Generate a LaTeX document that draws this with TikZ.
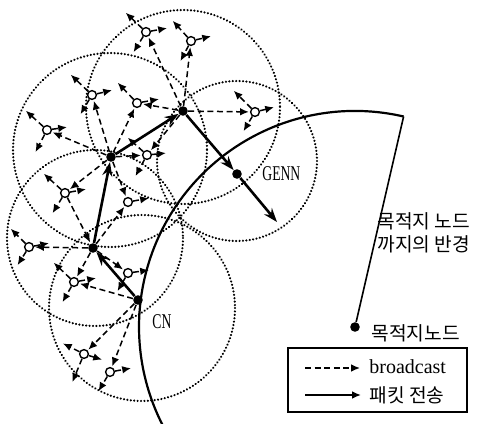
\documentclass[tikz,border=0pt]{standalone}
\usepackage{fontspec}
\setmainfont{Liberation Serif}
\newfontfamily\narrowfont[FakeStretch=0.65]{Liberation Serif}
\newfontfamily\kor{Noto Sans CJK KR}
\usepackage{tikz}
\usetikzlibrary{arrows.meta}
\tikzstyle{relay} = [circle, fill=black, inner sep=0pt, minimum size=4.8pt]
\tikzstyle{nbr} = [circle, draw=black, fill=white, line width=0.7pt, inner sep=0pt, minimum size=4.4pt]
\tikzstyle{rangecircle} = [line width=1.2pt, dash pattern=on 0.01pt off 1.7pt, line cap=round]
\tikzstyle{bcast} = [line width=0.75pt, dash pattern=on 3pt off 1.8pt, -{Latex[length=4.4pt,width=3.8pt]}, shorten >=0.5pt]
\tikzstyle{packet} = [line width=1.3pt, -{Stealth[length=7pt,width=5pt]}]
\tikzstyle{lbl} = [inner sep=0pt, anchor=west]

\begin{document}
\begin{tikzpicture}[x=0.5pt, y=-0.5pt]
\useasboundingbox (0,0) rectangle (487,423);

\draw[rangecircle] (183,107) circle[radius=97];
\draw[rangecircle] (110,150) circle[radius=97];
\draw[rangecircle] (237,161) circle[radius=80];
\draw[rangecircle] (95,238) circle[radius=88];
\draw[rangecircle] (142,308) circle[radius=93];

\node (cn) [relay] at (138,300) {};
\node (na) [relay] at (93,248) {};
\node (nb) [relay] at (111,157) {};
\node (nc) [relay] at (183,111) {};
\node (genn) [relay] at (237,174) {};
\node (dest) [relay] at (355,327) {};
\coordinate (hop) at (277,222);
\coordinate (rtop) at (403.6,116.5);

\draw[line width=1.1pt] (rtop) arc[start angle=-77, end angle=-207, radius=216];
\draw[line width=0.8pt] (dest) -- (rtop);

\node (h1) [nbr] at (146,32) {};
\node (h2) [nbr] at (92,95) {};
\node (h3) [nbr] at (137,103) {};
\node (h4) [nbr] at (47,130) {};
\node (h5) [nbr] at (191,41) {};
\node (h6) [nbr] at (255,112) {};
\node (h7) [nbr] at (147,155) {};
\node (h8) [nbr] at (65,193) {};
\node (h9) [nbr] at (128,202) {};
\node (h10) [nbr] at (29,247) {};
\node (h11) [nbr] at (128,273) {};
\node (h12) [nbr] at (74,282) {};
\node (h13) [nbr] at (84,354) {};
\node (h14) [nbr] at (110,372) {};

\coordinate (h1a) at (125,12);
\coordinate (h1b) at (168,28);
\coordinate (h1c) at (133,53);
\coordinate (h2a) at (70,74);
\coordinate (h2b) at (113,90);
\coordinate (h2c) at (80,115);
\coordinate (h3a) at (117,82);
\coordinate (h3b) at (160,99);
\coordinate (h4a) at (25,110);
\coordinate (h4b) at (68,127);
\coordinate (h4c) at (35,153);
\coordinate (h5a) at (172,20);
\coordinate (h5b) at (212,36);
\coordinate (h5c) at (180,62);
\coordinate (h6a) at (233,90);
\coordinate (h6b) at (275,107);
\coordinate (h6c) at (243,132);
\coordinate (h7a) at (127,137);
\coordinate (h7b) at (167,153);
\coordinate (h7c) at (135,177);
\coordinate (h8a) at (43,173);
\coordinate (h8b) at (87,189);
\coordinate (h8c) at (52,214);
\coordinate (h9a) at (150,198);
\coordinate (h10a) at (10,228);
\coordinate (h10b) at (50,243);
\coordinate (h10c) at (17,266);
\coordinate (h11a) at (150,270);
\coordinate (h11b) at (117,292);
\coordinate (h12a) at (53,262);
\coordinate (h12b) at (97,278);
\coordinate (h12c) at (62,303);
\coordinate (h13a) at (62,343);
\coordinate (h13b) at (103,360);
\coordinate (h13c) at (72,383);
\coordinate (h14a) at (132,368);
\coordinate (h14b) at (98,392);

\draw[bcast] (nc) -- (h1);
\draw[bcast] (nc) -- (h5);
\draw[bcast] (nc) -- (h3);
\draw[bcast] (nc) -- (h6);
\draw[bcast] (nc) -- (h7);
\draw[bcast] (nb) -- (h2);
\draw[bcast] (nb) -- (h3);
\draw[bcast] (nb) -- (h4);
\draw[bcast] (nb) -- (h7);
\draw[bcast] (nb) -- (h8);
\draw[bcast] (nb) -- (h9);
\draw[bcast] (na) -- (h10);
\draw[bcast] (na) -- (h9);
\draw[bcast] (na) -- (h11);
\draw[bcast] (na) -- (h12);
\draw[bcast] (h8) -- (na);
\draw[bcast] (cn) -- (h12);
\draw[bcast] (cn) -- (h13);
\draw[bcast] (cn) -- (h14);

\draw[bcast] (h1) -- (h1a);
\draw[bcast] (h1) -- (h1b);
\draw[bcast] (h1) -- (h1c);
\draw[bcast] (h2) -- (h2a);
\draw[bcast] (h2) -- (h2b);
\draw[bcast] (h2) -- (h2c);
\draw[bcast] (h3) -- (h3a);
\draw[bcast] (h3) -- (h3b);
\draw[bcast] (h4) -- (h4a);
\draw[bcast] (h4) -- (h4b);
\draw[bcast] (h4) -- (h4c);
\draw[bcast] (h5) -- (h5a);
\draw[bcast] (h5) -- (h5b);
\draw[bcast] (h5) -- (h5c);
\draw[bcast] (h6) -- (h6a);
\draw[bcast] (h6) -- (h6b);
\draw[bcast] (h6) -- (h6c);
\draw[bcast] (h7) -- (h7a);
\draw[bcast] (h7) -- (h7b);
\draw[bcast] (h7) -- (h7c);
\draw[bcast] (h8) -- (h8a);
\draw[bcast] (h8) -- (h8b);
\draw[bcast] (h8) -- (h8c);
\draw[bcast] (h9) -- (h9a);
\draw[bcast] (h10) -- (h10a);
\draw[bcast] (h10) -- (h10b);
\draw[bcast] (h10) -- (h10c);
\draw[bcast] (h11) -- (h11a);
\draw[bcast] (h11) -- (h11b);
\draw[bcast] (h12) -- (h12a);
\draw[bcast] (h12) -- (h12b);
\draw[bcast] (h12) -- (h12c);
\draw[bcast] (h13) -- (h13a);
\draw[bcast] (h13) -- (h13b);
\draw[bcast] (h13) -- (h13c);
\draw[bcast] (h14) -- (h14a);
\draw[bcast] (h14) -- (h14b);

\draw[packet] (cn) -- (na);
\draw[packet] (na) -- (nb);
\draw[packet] (nb) -- (nc);
\draw[packet] (nc) -- (genn);
\draw[packet] (genn) -- (hop);

\node (gennlbl) [lbl, font=\narrowfont\fontsize{10.5}{12}\selectfont] at (262,174) {GENN};
\node (cnlbl) [lbl, font=\narrowfont\fontsize{10.5}{12}\selectfont] at (152,322) {CN};
\node (rlbl) [lbl, align=left, font=\kor\fontsize{9.6}{11.2}\selectfont] at (377,233) {목적지 노드\\까지의 반경};
\node (destlbl) [lbl, font=\kor\fontsize{9.6}{11}\selectfont] at (371,333) {목적지노드};

\node (legbox) [draw, line width=0.6pt, minimum width=89.5pt, minimum height=32pt, inner sep=0pt] at (377.5,380) {};
\coordinate (l1s) at (305,368);
\coordinate (l1e) at (361,368);
\coordinate (l2s) at (305,395);
\coordinate (l2e) at (361,395);
\draw[bcast] (l1s) -- (l1e);
\draw[line width=0.8pt, -{Latex[length=4.4pt,width=3.8pt]}] (l2s) -- (l2e);
\node (t1) [lbl, font=\fontsize{10}{12}\selectfont] at (369,367) {broadcast};
\node (t2) [lbl, font=\kor\fontsize{9.6}{11}\selectfont] at (369,395) {패킷 전송};
\end{tikzpicture}
\end{document}
